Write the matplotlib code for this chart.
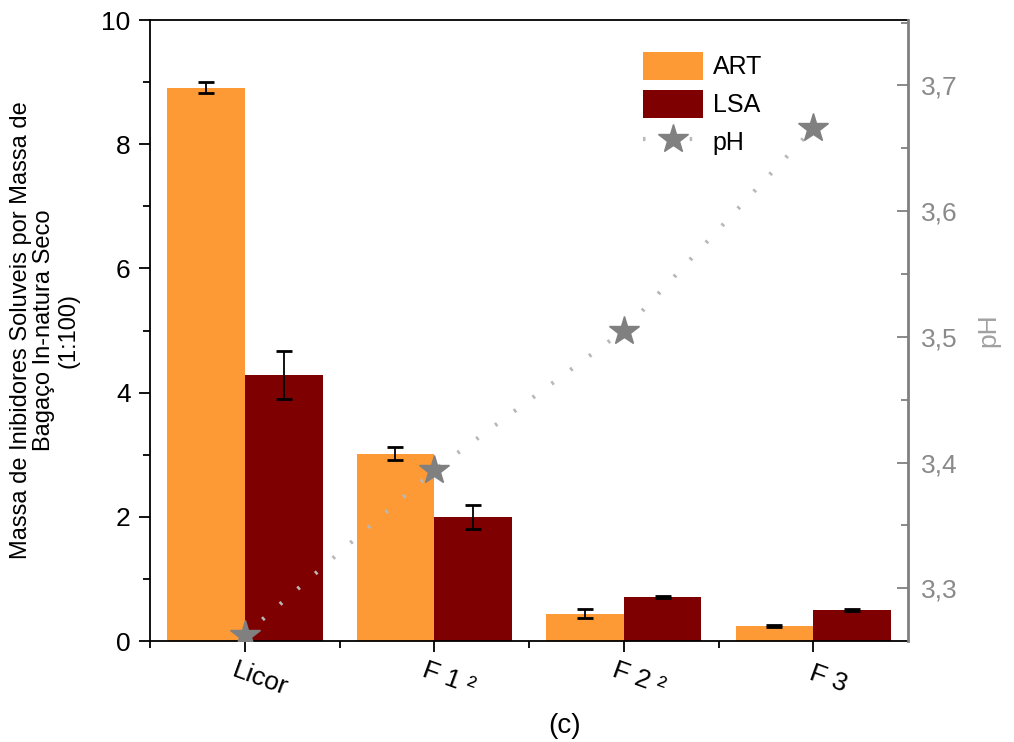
import numpy as np
import matplotlib.pyplot as plt
import matplotlib.transforms as mtrans
from matplotlib.ticker import MultipleLocator, FixedLocator, NullFormatter

plt.rcParams['font.family'] = ['Liberation Sans', 'DejaVu Sans']

categories = ["Licor", "F 1 ²", "F 2 ²", "F 3"]
art = [8.91, 3.02, 0.44, 0.24]
art_err = [0.09, 0.10, 0.07, 0.02]
lsa = [4.28, 2.00, 0.71, 0.50]
lsa_err = [0.39, 0.19, 0.02, 0.01]
ph = [3.263, 3.394, 3.505, 3.666]

orange = "#fd9a35"
darkred = "#7f0000"
grey = "#808080"

fig = plt.figure(figsize=(10.14, 7.42), dpi=100)
ax = fig.add_axes([0.148, 0.136, 0.7475, 0.837])
x = np.arange(len(categories))
w = 0.41

ax.bar(x - w / 2, art, w, color=orange, label="ART", zorder=2)
ax.bar(x + w / 2, lsa, w, color=darkred, label="LSA", zorder=2)
ax.errorbar(x - w / 2, art, yerr=art_err, fmt="none", ecolor="black",
            elinewidth=1.3, capsize=6, capthick=2, zorder=3)
ax.errorbar(x + w / 2, lsa, yerr=lsa_err, fmt="none", ecolor="black",
            elinewidth=1.3, capsize=6, capthick=2, zorder=3)

ax.set_xlim(-0.5, 3.5)
ax.set_ylim(0, 10)
ax.set_xticks(x)
ax.xaxis.set_major_formatter(NullFormatter())
# category labels, nudged right of the tick like the original
shift = mtrans.ScaledTranslation(0.15, -0.38, fig.dpi_scale_trans)
for xi, lab in zip(x, categories):
    ax.text(xi, 0, lab, transform=ax.get_xaxis_transform() + shift,
            rotation=-20, ha="center", va="center", fontsize=19)
ax.xaxis.set_minor_locator(FixedLocator([-0.5, 0.5, 1.5, 2.5]))
ax.yaxis.set_major_locator(MultipleLocator(2))
ax.yaxis.set_minor_locator(MultipleLocator(1))
ax.tick_params(axis="y", which="major", labelsize=19, length=8, width=1.3, pad=6)
ax.tick_params(axis="y", which="minor", length=5, width=1.3)
ax.tick_params(axis="x", which="major", length=8, width=1.3)
ax.tick_params(axis="x", which="minor", length=5, width=1.3)
ax.spines["right"].set_visible(False)
for s in ["left", "bottom", "top"]:
    ax.spines[s].set_linewidth(1.3)
ax.set_ylabel("Massa de Inibidores Soluveis por Massa de\nBagaço In-natura Seco\n(1:100)",
              fontsize=17, labelpad=16, linespacing=1.1)

ax2 = ax.twinx()
ax2.plot(x, ph, linestyle=(0, (0.6, 5)), color="#b8b8b8", linewidth=3,
         marker="*", markersize=22, markerfacecolor=grey, markeredgecolor=grey,
         label="pH", zorder=4)
ax2.set_ylim(3.258, 3.752)
ax2.yaxis.set_major_locator(MultipleLocator(0.1))
ax2.yaxis.set_minor_locator(MultipleLocator(0.05))
ax2.yaxis.set_major_formatter(plt.FuncFormatter(lambda v, p: f"{v:.1f}".replace(".", ",")))
ax2.tick_params(axis="y", which="major", direction="in", length=8, width=1.3,
                colors=grey, labelsize=19, pad=9, labelcolor="#8a8a8a")
ax2.tick_params(axis="y", which="minor", direction="in", length=5, width=1.3, colors=grey)
ax2.spines["right"].set_color(grey)
ax2.spines["right"].set_linewidth(2)
for s in ["left", "top", "bottom"]:
    ax2.spines[s].set_visible(False)
ax2.set_ylabel("pH", color="#a0a0a0", fontsize=19, labelpad=14)

h1, l1 = ax.get_legend_handles_labels()
h2, l2 = ax2.get_legend_handles_labels()
ax.legend(h1 + h2, l1 + l2, loc="upper left", bbox_to_anchor=(0.62, 0.985),
          frameon=False, fontsize=18, handlelength=2.4, handleheight=1.35,
          labelspacing=0.4, handletextpad=0.4)

fig.text(0.557, 0.012, "(c)", fontsize=20, ha="center")
fig.savefig("out.png", dpi=100)
